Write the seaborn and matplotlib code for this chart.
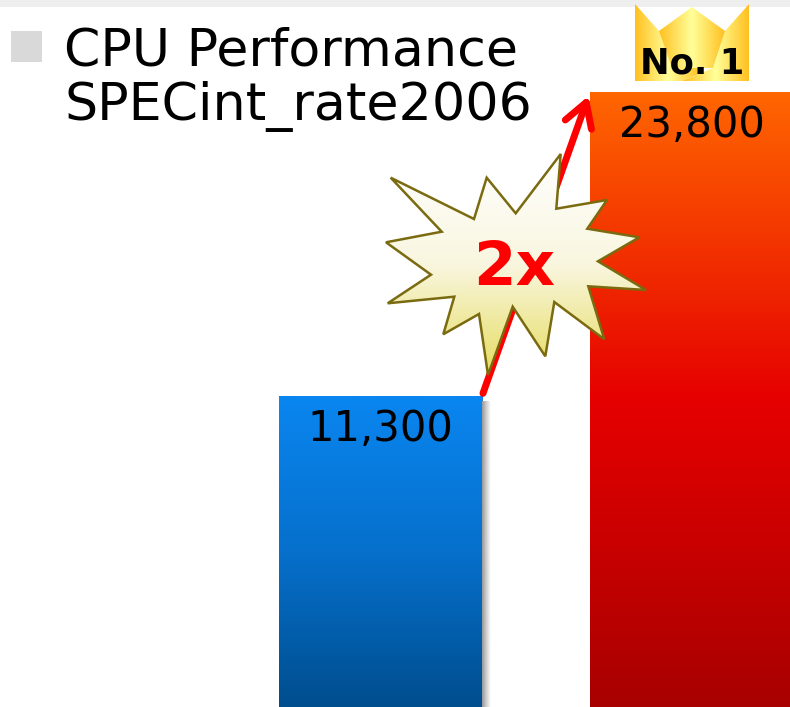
import matplotlib
matplotlib.use("Agg")
import matplotlib.pyplot as plt
import numpy as np
import pandas as pd
import seaborn as sns
from matplotlib.colors import LinearSegmentedColormap
from matplotlib.patches import Polygon, Rectangle

# Chart values
systems = ["Previous system", "New system"]
scores = [11300, 23800]
title_lines = ["CPU Performance", "SPECint_rate2006"]
ratio_label = "2x"
rank_label = "No. 1"

# Bar fills, top to bottom
blue_fill = ["#0a86f0", "#0670cc", "#004e8e"]
red_fill = ["#ff6600", "#e60000", "#a80000"]

# Decoration outlines in canvas pixels
burst_outline = [
    (390.7, 177.7), (474, 219), (486.7, 177.7), (515.7, 213.3), (560.7, 154),
    (556.3, 208.7), (607, 200), (587.3, 228.7), (639.3, 237.3), (598, 261.3),
    (646, 290), (588.3, 286.3), (604.3, 339.3), (554.3, 302), (545.3, 356.3),
    (512.7, 306.7), (488, 375), (479, 314), (443.3, 334.3), (454.3, 296.7),
    (387.7, 303.3), (431, 274.7), (386, 242.3), (441.7, 231.7),
]
crown_left = [(635, 4), (659, 31), (672, 68), (713, 68), (682, 81), (635, 81)]
crown_right = [(749, 4), (725, 31), (713, 68), (682, 81), (749, 81)]
crown_middle = [(659, 31), (692, 7), (725, 31), (713, 68), (672, 68)]

sns.set_theme(style="white")
W, H = 790, 707
fig = plt.figure(figsize=(W / 100, H / 100), dpi=100, facecolor="white")

# Value axes: the baseline sits below the canvas edge, so bars run off the bottom
PX_PER_UNIT = (396 - 92) / (scores[1] - scores[0])
PX_PER_CATEGORY = 311
y_low = scores[0] - (H - 396) / PX_PER_UNIT
y_high = scores[1] + 92 / PX_PER_UNIT
x_low = -380.5 / PX_PER_CATEGORY
x_high = x_low + W / PX_PER_CATEGORY

ax = fig.add_axes([0, 0, 1, 1], zorder=1)
table = pd.DataFrame({"system": systems, "score": scores})
sns.barplot(data=table, x="system", y="score", ax=ax, width=0.653,
            color="white", saturation=1)
ax.set_xlim(x_low, x_high)
ax.set_ylim(y_low, y_high)
ax.axis("off")


def gradient_fill(axis, patch_box, colors):
    cmap = LinearSegmentedColormap.from_list("fill", colors)
    ramp = np.linspace(0, 1, 256)[:, None]
    return axis.imshow(ramp, cmap=cmap, aspect="auto", extent=patch_box,
                       origin="upper", interpolation="bilinear", zorder=3)


for bar, value, colors in zip(ax.patches, scores, [blue_fill, red_fill]):
    x0, x1 = bar.get_x(), bar.get_x() + bar.get_width()
    bar.set_y(y_low)
    bar.set_height(value - y_low)
    bar.set_edgecolor("none")
    gradient_fill(ax, (x0, x1, y_low, value), colors)
    ax.annotate(f"{value:,}", ((x0 + x1) / 2, value), xytext=(0, -8.5),
                textcoords="offset points", ha="center", va="top",
                fontsize=30, color="black", zorder=5,
                family="DejaVu Sans")
ax.set_xlim(x_low, x_high)
ax.set_ylim(y_low, y_high)

# Rising arrow from the shorter bar to the taller one
left_bar, right_bar = ax.patches[0], ax.patches[1]
ax.annotate("", xy=(right_bar.get_x(), scores[1]),
            xytext=(left_bar.get_x() + left_bar.get_width(), scores[0]),
            arrowprops=dict(arrowstyle="->,head_length=1.7,head_width=1.0",
                            mutation_scale=10, color="#ff0000", lw=5,
                            shrinkA=2, shrinkB=3, capstyle="round"),
            zorder=6)

# Pixel-space layer for the header, burst and crown
deco = fig.add_axes([0, 0, 1, 1], zorder=2)
deco.set_xlim(0, W)
deco.set_ylim(H, 0)
deco.axis("off")
deco.patch.set_alpha(0)

deco.add_patch(Rectangle((0, 0), W, 7, facecolor="#eeeeee", edgecolor="none"))
deco.add_patch(Rectangle((11, 31), 31, 31, facecolor="#d9d9d9", edgecolor="none"))
for baseline, line in zip((65, 120), title_lines):
    deco.text(64, baseline, line, fontsize=37.6, color="black",
              ha="left", va="baseline", family="DejaVu Sans")

# Soft shadow on the blue bar's right side
shadow_cmap = LinearSegmentedColormap.from_list("shadow", ["#989898", "#d0d0d0", "#ffffff"])
deco.imshow(np.linspace(0, 1, 64)[None, :], cmap=shadow_cmap, aspect="auto",
            extent=(482, 491, H, 401), zorder=1)

# Burst with a vertical cream-to-yellow fill
burst = Polygon(burst_outline, closed=True, facecolor="none",
                edgecolor="#7a6a10", lw=1.8, zorder=4)
deco.add_patch(burst)
burst_cmap = LinearSegmentedColormap.from_list("burst", ["#ffffff", "#f9f6df", "#e6dd62"])
burst_img = deco.imshow(np.linspace(0, 1, 256)[:, None], cmap=burst_cmap, aspect="auto",
                        extent=(386, 646, 375, 154), origin="upper", zorder=3)
burst_img.set_clip_path(Polygon(burst_outline, closed=True, transform=deco.transData))
deco.text(514, 285, ratio_label, fontsize=44, fontweight="bold", color="#ff0000",
          ha="center", va="baseline", family="DejaVu Sans", zorder=5)

# Crown badge: three facets, each with a gold-pale-gold sweep
gold_sweep = LinearSegmentedColormap.from_list("gold", ["#ffc020", "#ffff99", "#ffc020"])
for outline, span in (
    (crown_left, (635, 701)),
    (crown_right, (682, 749)),
    (crown_middle, (659, 725)),
):
    img = deco.imshow(np.linspace(0, 1, 256)[None, :], cmap=gold_sweep, aspect="auto",
                      extent=(span[0], span[1], 81, 4), zorder=6)
    img.set_clip_path(Polygon(outline, closed=True, transform=deco.transData))
deco.text(692, 74, rank_label, fontsize=25.5, fontweight="bold", color="black",
          ha="center", va="baseline", family="DejaVu Sans", zorder=7)

deco.set_xlim(0, W)
deco.set_ylim(H, 0)

fig.savefig("out.png", dpi=100)
